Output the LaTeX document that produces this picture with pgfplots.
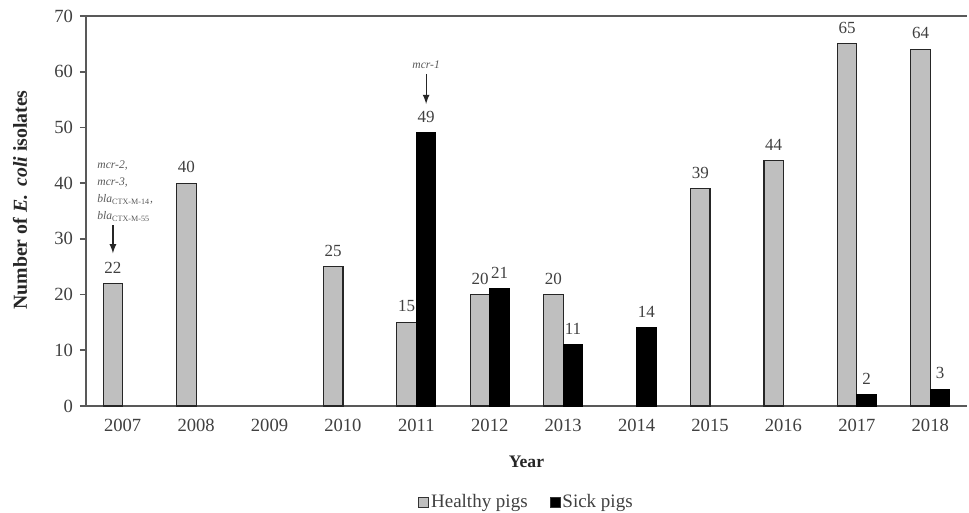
\documentclass[border=0pt]{standalone}
\usepackage{pgfplots}
\pgfplotsset{compat=1.18}
\usepackage{fontspec}
\setmainfont{Liberation Serif}
\definecolor{txt}{HTML}{404040}
\definecolor{ann}{HTML}{595959}
\definecolor{axl}{HTML}{595959}
\begin{document}
\begin{tikzpicture}
\begin{axis}[
  scale only axis, width=440.5pt, height=195pt,
  xmin=-0.5, xmax=11.5, ymin=0, ymax=70,
  ytick={0,10,20,30,40,50,60,70},
  xtick={0,1,2,3,4,5,6,7,8,9,10,11},
  xticklabels={2007,2008,2009,2010,2011,2012,2013,2014,2015,2016,2017,2018},
  axis lines*=left,
  axis line style={color=axl, line width=0.8pt},
  x tick style={draw=none},
  y tick style={color=axl, line width=0.8pt},
  tick align=outside, major tick length=3pt,
  /pgf/number format/assume math mode=true,
  tick label style={font=\fontsize{9.3}{11}\selectfont, text=txt},
  xlabel={\textbf{Year}},
  xlabel style={at={(axis description cs:0.5,-0.1436)}, anchor=center, font=\fontsize{8.8}{10}\selectfont, text=black!85},
  ylabel={\textbf{Number of \textit{E.}\, \textit{coli} isolates}},
  ylabel style={at={(axis description cs:-0.0749,0.528)}, anchor=center, rotate=0, font=\fontsize{9.9}{10}\selectfont, text=black!85},
  ybar=0pt, bar width=9.75pt,
  nodes near coords,
  nodes near coords style={font=\fontsize{8.5}{10}\selectfont, text=txt, yshift=1.5pt},
  legend style={at={(axis description cs:0.5,-0.246)}, anchor=center, draw=none, legend columns=2, font=\fontsize{9.5}{10}\selectfont, text=txt, /tikz/every even column/.append style={column sep=10pt}, inner sep=0pt, nodes={inner sep=1pt}},
  legend image code/.code={\draw[#1, draw=black!80, line width=0.4pt] (0pt,-2.6pt) rectangle (5pt,2.4pt);},
  clip=false,
]
\addplot[fill=black!25, draw=black!85, line width=0.6pt] coordinates {
  (0,22) (1,40) (3,25) (4,15) (5,20) (6,20) (8,39) (9,44) (10,65) (11,64)};
\addplot[fill=black, draw=black, line width=0.6pt] coordinates {
  (4,49) (5,21) (6,11) (7,14) (10,2) (11,3)};
\legend{Healthy pigs, Sick pigs}
\draw[axl, line width=0.8pt] (rel axis cs:0,1) -- (rel axis cs:1,1);
\node[anchor=north west, align=left, inner sep=0pt, text=ann, font=\fontsize{5.8}{8.5}\selectfont\itshape]
  at (axis cs:-0.35,44) {mcr-2,\\mcr-3,\\bla\textsubscript{\upshape CTX-M-14},\\bla\textsubscript{\upshape CTX-M-55}};
\draw[-{latex}, black!85, line width=0.6pt] (axis cs:-0.133,32.4) -- (axis cs:-0.133,27.4);
\node[anchor=center, inner sep=0pt, text=ann, font=\fontsize{5.8}{8.5}\selectfont\itshape]
  at (axis cs:4.133,61.3) {mcr-1};
\draw[-{latex}, black!85, line width=0.6pt] (axis cs:4.133,59.6) -- (axis cs:4.133,54.2);
\path (axis description cs:-0.0976,1.041) (axis description cs:1.0023,-0.2667);
\end{axis}
\end{tikzpicture}
\end{document}
